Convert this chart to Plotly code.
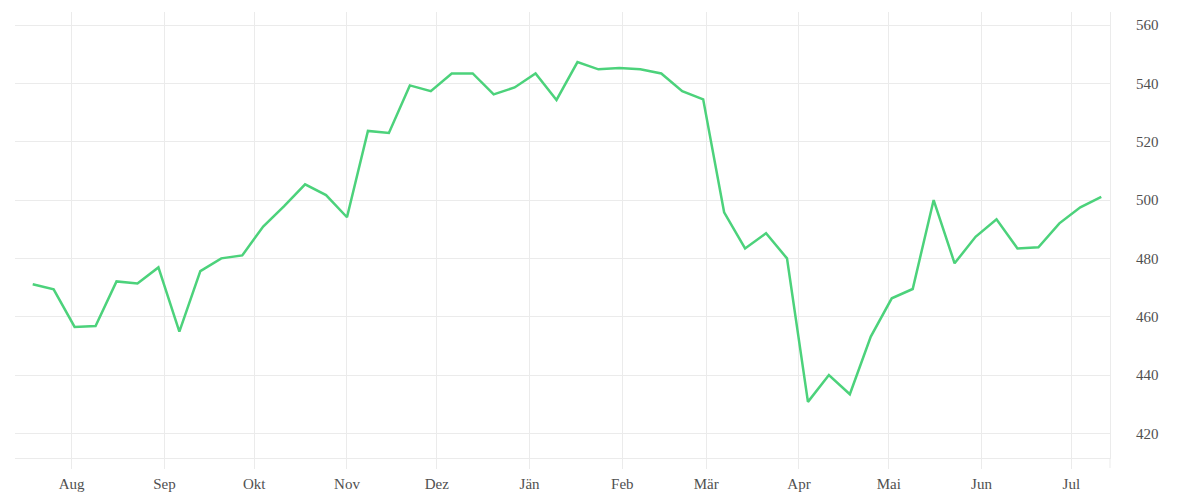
import plotly.graph_objects as go

dates = [
    "2018-07-19", "2018-07-26", "2018-08-02", "2018-08-09", "2018-08-16", "2018-08-23",
    "2018-08-30", "2018-09-06", "2018-09-13", "2018-09-20", "2018-09-27", "2018-10-04",
    "2018-10-11", "2018-10-18", "2018-10-25", "2018-11-01", "2018-11-08", "2018-11-15",
    "2018-11-22", "2018-11-29", "2018-12-06", "2018-12-13", "2018-12-20", "2018-12-27",
    "2019-01-03", "2019-01-10", "2019-01-17", "2019-01-24", "2019-01-31", "2019-02-07",
    "2019-02-14", "2019-02-21", "2019-02-28", "2019-03-07", "2019-03-14", "2019-03-21",
    "2019-03-28", "2019-04-04", "2019-04-11", "2019-04-18", "2019-04-25", "2019-05-02",
    "2019-05-09", "2019-05-16", "2019-05-23", "2019-05-30", "2019-06-06", "2019-06-13",
    "2019-06-20", "2019-06-27", "2019-07-04", "2019-07-11",
]

values = [
    471.1, 469.4, 456.5, 456.8, 472.1, 471.4, 476.9, 454.9, 475.6, 480.0,
    481.0, 490.9, 497.9, 505.4, 501.7, 494.1, 523.7, 523.0, 539.3, 537.3,
    543.4, 543.4, 536.2, 538.6, 543.4, 534.3, 547.3, 544.8, 545.3, 544.8,
    543.4, 537.3, 534.5, 495.8, 483.4, 488.6, 480.0, 430.8, 440.0, 433.4,
    453.2, 466.3, 469.5, 500.0, 478.3, 487.4, 493.4, 483.4, 483.8, 492.0,
    497.5, 501.1,
]

month_ticks = [
    "2018-08-01", "2018-09-01", "2018-10-01", "2018-11-01", "2018-12-01", "2019-01-01",
    "2019-02-01", "2019-03-01", "2019-04-01", "2019-05-01", "2019-06-01", "2019-07-01",
]
month_labels = ["Aug", "Sep", "Okt", "Nov", "Dez", "Jän", "Feb", "Mär", "Apr", "Mai", "Jun", "Jul"]

y_ticks = [420, 440, 460, 480, 500, 520, 540, 560]

GRID = "#ebebeb"
FONT = dict(family="Liberation Serif, Times New Roman, serif", size=15, color="#505050")

fig = go.Figure()
fig.add_trace(go.Scatter(
    x=dates, y=values, mode="lines",
    line=dict(color="#4cd27b", width=2.5),
    hoverinfo="x+y", showlegend=False,
))

fig.update_layout(
    width=1192, height=492,
    margin=dict(l=7, r=90, t=4, b=42),
    paper_bgcolor="white", plot_bgcolor="white",
    font=FONT,
    xaxis=dict(
        type="date",
        range=["2018-07-13 02:00", "2019-07-13 22:00"],
        tickmode="array", tickvals=month_ticks, ticktext=month_labels,
        showgrid=True, gridcolor=GRID, gridwidth=1,
        ticks="outside", ticklen=10, tickcolor=GRID, tickwidth=1,
        ticklabelstandoff=2,
        showline=True, linecolor=GRID, linewidth=1,
        zeroline=False, tickfont=FONT,
    ),
    yaxis=dict(
        side="right",
        range=[411.56, 564.46],
        tickmode="array", tickvals=y_ticks,
        showgrid=True, gridcolor=GRID, gridwidth=1,
        ticks="", ticklabelstandoff=22,
        showline=True, linecolor=GRID, linewidth=1,
        zeroline=False, tickfont=FONT,
    ),
    shapes=[dict(
        type="line", xref="paper", yref="paper",
        x0=1, x1=1, y0=-10 / 446, y1=0,
        line=dict(color=GRID, width=1),
    )],
)

fig.write_html("out.html")
